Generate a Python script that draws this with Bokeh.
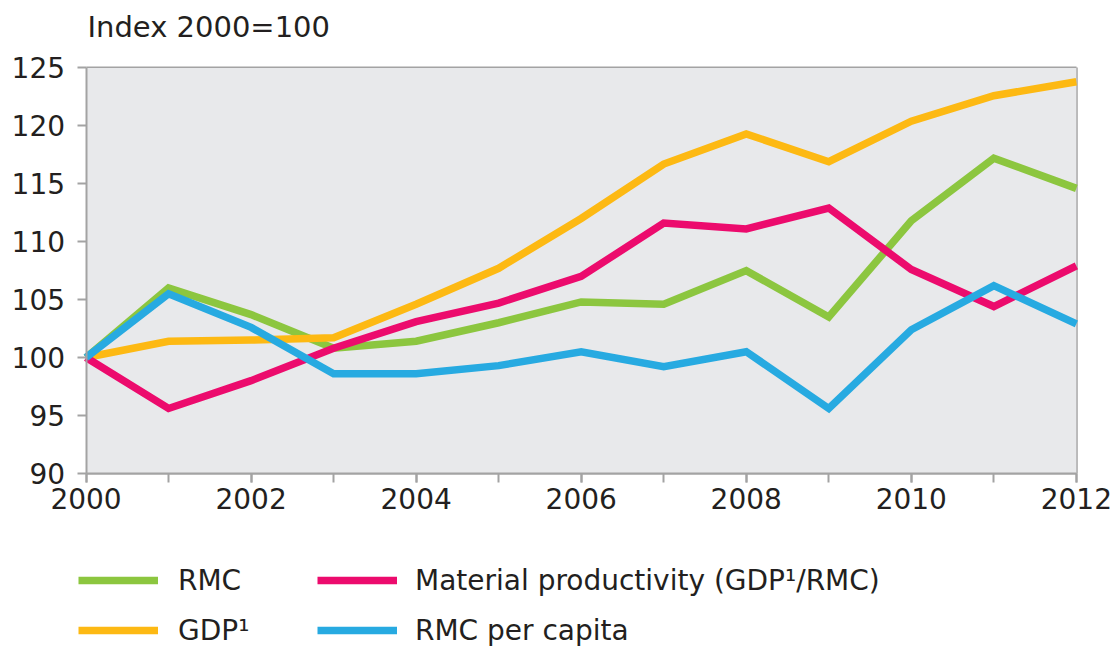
from bokeh.plotting import figure
from bokeh.models import Legend, LegendItem, FixedTicker, Title, BoxAnnotation
from bokeh.embed import file_html
from bokeh.resources import INLINE

years = list(range(2000, 2013))
rmc = [100, 106.0, 103.7, 100.8, 101.4, 103.0, 104.8, 104.6, 107.5, 103.5, 111.8, 117.2, 114.6]
gdp = [100, 101.4, 101.5, 101.7, 104.6, 107.7, 112.0, 116.7, 119.3, 116.9, 120.4, 122.6, 123.8]
productivity = [100, 95.6, 98.0, 100.8, 103.1, 104.7, 107.0, 111.6, 111.1, 112.9, 107.6, 104.4, 107.9]
rmc_per_capita = [100, 105.5, 102.6, 98.6, 98.6, 99.3, 100.5, 99.2, 100.5, 95.6, 102.4, 106.2, 102.9]

series_names = ["RMC", "GDP¹", "Material productivity (GDP¹/RMC)", "RMC per capita"]
colors = ["#8cc63f", "#fdb913", "#ec0b6d", "#27aae1"]
y_ticks = [90, 95, 100, 105, 110, 115, 120, 125]
x_major = [2000, 2002, 2004, 2006, 2008, 2010, 2012]
y_min, y_max = 90, 125
x_min, x_max = 2000, 2012

FONT = "DejaVu Sans"
TXT = "#231f20"
GRID = "#a3a3a3"

# the frame extends beyond the value area so tick labels and legend live inside it
p = figure(frame_width=1110, frame_height=614, x_range=(1999, 2012.45),
           y_range=(73.5, 126.5), output_backend="svg", toolbar_location=None,
           min_border_left=3, min_border_top=50, min_border_right=0, min_border_bottom=0)
p.background_fill_color = "white"
p.border_fill_color = "white"
p.outline_line_color = None

p.add_layout(BoxAnnotation(left=x_min, right=x_max, bottom=y_min, top=y_max,
                           fill_color="#e8e9eb", fill_alpha=1, line_color=None,
                           level="underlay"))

p.ygrid.grid_line_color = GRID
p.ygrid.grid_line_width = 2
p.ygrid.ticker = FixedTicker(ticks=y_ticks)
p.ygrid.cross_bounds = (x_min, x_max)
p.xgrid.ticker = FixedTicker(ticks=[x_max])
p.xgrid.grid_line_color = GRID
p.xgrid.grid_line_width = 2.5
p.xgrid.cross_bounds = (y_min, y_max)

p.yaxis.ticker = FixedTicker(ticks=y_ticks)
p.yaxis.bounds = (y_min, y_max)
p.yaxis.fixed_location = x_min
p.xaxis.ticker = FixedTicker(ticks=x_major, minor_ticks=years)
p.xaxis.bounds = (x_min, x_max)
p.xaxis.fixed_location = y_min

for ax in (p.xaxis[0], p.yaxis[0]):
    ax.axis_line_color = GRID
    ax.axis_line_width = 2
    ax.major_tick_line_color = GRID
    ax.major_tick_line_width = 2
    ax.major_tick_out = 9
    ax.major_tick_in = 0
    ax.minor_tick_line_color = GRID
    ax.minor_tick_line_width = 2
    ax.minor_tick_out = 9
    ax.minor_tick_in = 0
    ax.major_label_text_font = FONT
    ax.major_label_text_font_size = "28px"
    ax.major_label_text_color = TXT
p.yaxis.minor_tick_line_color = None
p.yaxis.major_label_standoff = 12
p.xaxis.major_label_standoff = 6

renderers = []
for vals, c in zip([rmc, gdp, productivity, rmc_per_capita], colors):
    r = p.line(years, vals, line_color=c, line_width=7.5, line_join="miter")
    renderers.append(r)

p.add_layout(Title(text="Index 2000=100", align="left", offset=84, standoff=14,
                   text_font=FONT, text_font_size="29px", text_color=TXT,
                   text_font_style="normal"), "above")

def make_legend(idx, x, standoff):
    return Legend(items=[LegendItem(label=series_names[i], renderers=[renderers[i]]) for i in idx],
                  location=(x, 14), orientation="vertical",
                  glyph_width=80, glyph_height=40, label_height=40, spacing=10,
                  label_standoff=standoff, padding=0, margin=0,
                  border_line_alpha=0, background_fill_alpha=0,
                  label_text_font=FONT, label_text_font_size="28px",
                  label_text_color=TXT, label_text_baseline="middle")

p.add_layout(make_legend([0, 1], 75, 20), "center")
p.add_layout(make_legend([2, 3], 314, 18), "center")

open("out.html", "w").write(file_html(p, INLINE))
